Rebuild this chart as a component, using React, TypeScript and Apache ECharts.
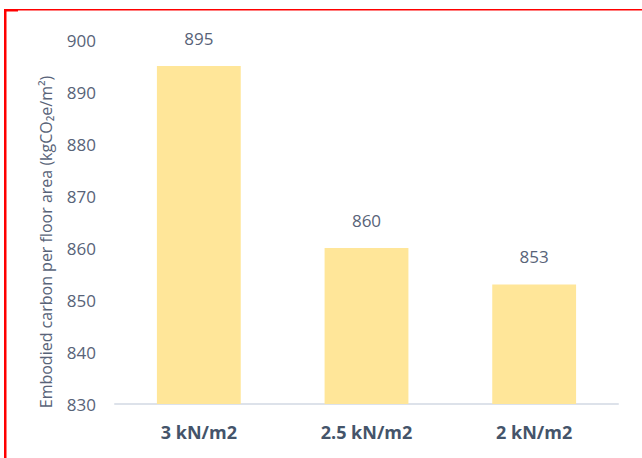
import React, { useEffect, useRef } from "react";
import * as echarts from "echarts";

const categories = ["3 kN/m2", "2.5 kN/m2", "2 kN/m2"];
const values = [895, 860, 853];
const yMin = 830;
const yMax = 900;
const yInterval = 10;
const yTitle = "Embodied carbon per floor area (kgCO₂e/m²)";

export default function App() {
  const ref = useRef<HTMLDivElement>(null);
  useEffect(() => {
    if (!ref.current) return;
    const chart = echarts.init(ref.current, undefined, { renderer: "svg" });
    const font = "'Open Sans', 'Noto Sans', sans-serif";
    chart.setOption({
      animation: false,
      backgroundColor: "#ffffff",
      grid: { left: 115, right: 24, top: 40, bottom: 54, containLabel: false },
      xAxis: {
        type: "category",
        data: categories,
        axisLine: { show: true, lineStyle: { color: "#dde2ea", width: 2 } },
        axisTick: { show: false },
        axisLabel: {
          margin: 19,
          fontSize: 18,
          fontWeight: "bold",
          color: "#44546a",
          fontFamily: font,
        },
      },
      yAxis: {
        type: "value",
        min: yMin,
        max: yMax,
        interval: yInterval,
        splitLine: { show: false },
        axisLine: { show: false },
        axisTick: { show: false },
        axisLabel: { margin: 19, fontSize: 17, color: "#586378", fontFamily: font },
      },
      series: [
        {
          type: "bar",
          data: values,
          barWidth: "50%",
          itemStyle: { color: "#ffe699" },
          label: {
            show: true,
            position: "top",
            distance: 19,
            fontSize: 17,
            color: "#586378",
            fontFamily: font,
          },
        },
      ],
      graphic: [
        { type: "rect", shape: { x: 4, y: 9, width: 638, height: 1.5 }, style: { fill: "#ff0000" } },
        { type: "rect", shape: { x: 4, y: 9, width: 2.5, height: 449 }, style: { fill: "#ff0000" } },
        { type: "rect", shape: { x: 4, y: 9, width: 14, height: 2.5 }, style: { fill: "#ff0000" } },
        {
          type: "text",
          x: 46,
          y: 242,
          rotation: Math.PI / 2,
          style: {
            text: yTitle,
            fontSize: 16,
            fill: "#586378",
            fontFamily: font,
            align: "center",
            verticalAlign: "middle",
          },
        },
      ],
    });
    return () => chart.dispose();
  }, []);
  return (
    <div
      ref={ref}
      style={{ position: "absolute", left: 0, top: 0, width: 642, height: 458 }}
    />
  );
}
